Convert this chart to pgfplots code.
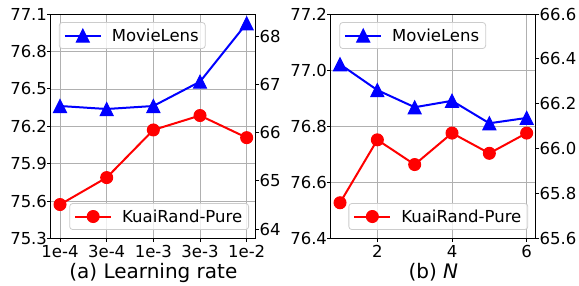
\documentclass[border=0pt]{standalone}
\usepackage{pgfplots}
\pgfplotsset{compat=1.18}
\usepackage{fontspec}
\setmainfont{DejaVu Sans}
\definecolor{gridc}{HTML}{B0B0B0}
\definecolor{legc}{HTML}{CCCCCC}
\pgfdeclareplotmark{mtri}{%
  \pgfpathmoveto{\pgfqpoint{0pt}{\pgfplotmarksize}}%
  \pgfpathlineto{\pgfqpoint{\pgfplotmarksize}{-\pgfplotmarksize}}%
  \pgfpathlineto{\pgfqpoint{-\pgfplotmarksize}{-\pgfplotmarksize}}%
  \pgfpathclose\pgfusepathqfillstroke}
\pgfplotsset{
 base/.style={
  scale only axis, width=205.3pt, height=224.7pt, clip=false,
  /pgf/number format/assume math mode=true,
  tick label style={font=\fontsize{16.5}{18}\selectfont, text=black},
  yticklabel style={inner xsep=0pt},
  label style={font=\fontsize{20}{24}\selectfont},
  xlabel style={yshift=2pt},
  tick align=outside, major tick length=3.5pt,
  tick style={black, line width=1pt},
  axis line style={line width=1pt},
  legend style={font=\fontsize{16.5}{18}\selectfont, draw=legc, line width=0.8pt, fill=white, fill opacity=0.8, text opacity=1, draw opacity=1, rounded corners=3pt, inner xsep=4.5pt, inner ysep=4pt, cells={anchor=west}},
  legend image code/.code={\draw[mark repeat=2,mark phase=2,##1, fill opacity=1, draw opacity=1] plot coordinates {(0pt,0pt)(18pt,0pt)(36pt,0pt)}; \path (44pt,0pt);},
 },
 left/.style={base, axis y line*=left, xtick pos=left, ytick pos=left, grid=major, grid style={gridc, line width=0.8pt}},
 right/.style={base, axis y line*=right, axis x line=none, ytick pos=right},
 ml/.style={blue, line width=2pt, mark=mtri, mark size=6.5pt, mark options={solid, line width=1pt}},
 kr/.style={red, line width=2pt, mark=*, mark size=6pt, mark options={solid, line width=1pt}},
}
\begin{document}
\begin{tikzpicture}
% ---------- (a) ----------
\begin{axis}[left, xmin=-0.2, xmax=4.2, ymin=75.3, ymax=77.1,
  xtick={0,1,2,3,4}, xticklabels={1e-4,3e-4,1e-3,3e-3,1e-2},
  ytick={75.3,75.6,75.9,76.2,76.5,76.8,77.1},
  yticklabel style={/pgf/number format/.cd, fixed, fixed zerofill, precision=1},
  xlabel={(a) Learning rate},
  legend style={at={(0.04,0.964)}, anchor=north west}]
\addplot[ml] coordinates {(0,76.363)(1,76.339)(2,76.363)(3,76.558)(4,77.025)};
\legend{MovieLens}
\end{axis}
\begin{axis}[right, xmin=-0.2, xmax=4.2, ymin=63.80, ymax=68.47,
  ytick={64,65,66,67,68},
  legend style={at={(0.966,0.039)}, anchor=south east}]
\addplot[kr] coordinates {(0,64.51)(1,65.07)(2,66.06)(3,66.36)(4,65.90)};
\legend{KuaiRand-Pure}
\end{axis}
% ---------- (b) ----------
\begin{axis}[left, at={(280pt,0pt)}, xmin=0.75, xmax=6.25, ymin=76.4, ymax=77.2,
  xtick={2,4,6},
  ytick={76.4,76.6,76.8,77.0,77.2},
  yticklabel style={/pgf/number format/.cd, fixed, fixed zerofill, precision=1},
  xlabel={(b) \textit{N}},
  legend style={at={(0.042,0.964)}, anchor=north west}]
\addplot[ml] coordinates {(1,77.021)(2,76.929)(3,76.868)(4,76.891)(5,76.811)(6,76.830)};
\legend{MovieLens}
\end{axis}
\begin{axis}[right, at={(280pt,0pt)}, xmin=0.75, xmax=6.25, ymin=65.6, ymax=66.6,
  ytick={65.6,65.8,66.0,66.2,66.4,66.6},
  yticklabel style={/pgf/number format/.cd, fixed, fixed zerofill, precision=1},
  legend style={at={(0.962,0.039)}, anchor=south east}]
\addplot[kr] coordinates {(1,65.76)(2,66.04)(3,65.93)(4,66.07)(5,65.98)(6,66.07)};
\legend{KuaiRand-Pure}
\end{axis}
\pgfresetboundingbox
\path (-50.7pt,-46.3pt) rectangle (528.3pt,238.7pt);
\end{tikzpicture}
\end{document}
